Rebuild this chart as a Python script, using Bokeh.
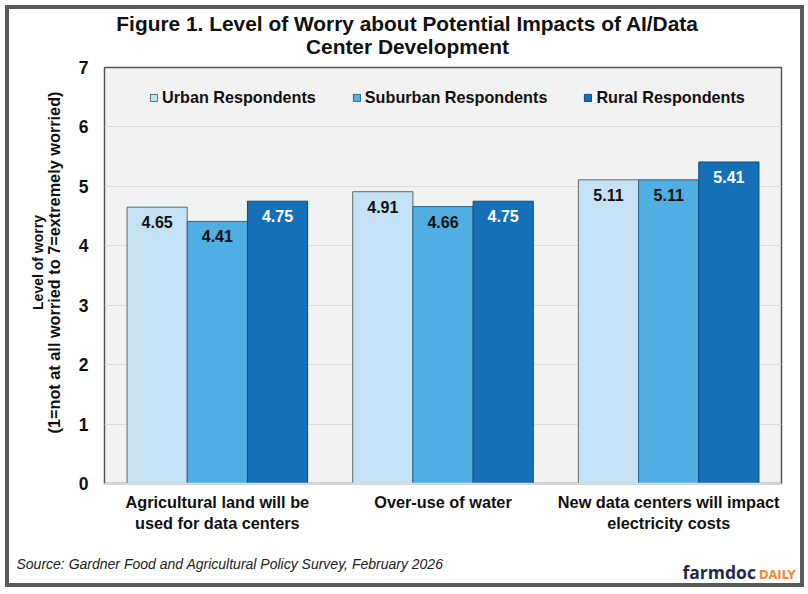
import math
from bokeh.embed import file_html
from bokeh.resources import INLINE
from bokeh.plotting import figure
from bokeh.models import ColumnDataSource, FactorRange, Range1d, Label, Legend, LegendItem, FixedTicker
from bokeh.transform import dodge
from bokeh.core.properties import value

categories = ["Agricultural land will be\nused for data centers", "Over-use of water",
              "New data centers will impact\nelectricity costs"]
urban = [4.65, 4.91, 5.11]
suburban = [4.41, 4.66, 5.11]
rural = [4.75, 4.75, 5.41]
y_ticks = [0, 1, 2, 3, 4, 5, 6, 7]
title_lines = ["Figure 1. Level of Worry about Potential Impacts of AI/Data", "Center Development"]
y_title_lines = ["Level of worry", "(1=not at all worried to 7=extremely worried)"]
source_text = "Source: Gardner Food and Agricultural Policy Survey, February 2026"

FONT = "Liberation Sans"
INK = "#111111"
W, H = 799, 582

p = figure(x_range=FactorRange(factors=categories, factor_padding=0, range_padding=0),
           y_range=Range1d(0, 7), width=W, height=H, output_backend="svg", toolbar_location=None,
           min_border_left=95, min_border_right=27, min_border_top=58, min_border_bottom=108,
           margin=(5, 0, 0, 5), background_fill_color="#f2f2f2", border_fill_color="white",
           styles={"border": "4px solid #595959"})

p.outline_line_color = "#555555"
p.outline_line_width = 1.5
p.xgrid.visible = False
p.ygrid.grid_line_color = "#dcdcdc"
p.ygrid.ticker = FixedTicker(ticks=y_ticks)

p.yaxis.ticker = FixedTicker(ticks=y_ticks)
p.yaxis.axis_line_color = None
p.yaxis.major_tick_line_color = None
p.yaxis.minor_tick_line_color = None
p.yaxis.major_label_text_font = FONT
p.yaxis.major_label_text_font_style = "bold"
p.yaxis.major_label_text_font_size = "17.5px"
p.yaxis.major_label_text_color = INK
p.yaxis.major_label_standoff = 10

p.xaxis.axis_line_color = "#d9d9d9"
p.xaxis.axis_line_width = 1.5
p.xaxis.major_tick_line_color = None
p.xaxis.minor_tick_line_color = None
p.xaxis.major_label_text_font = FONT
p.xaxis.major_label_text_font_style = "bold"
p.xaxis.major_label_text_font_size = "16.3px"
p.xaxis.major_label_text_color = INK
p.xaxis.major_label_standoff = 3
p.xaxis.major_label_orientation = "horizontal"

src = ColumnDataSource(dict(cat=categories, urban=urban, suburban=suburban, rural=rural,
                            lu=[f"{v:.2f}" for v in urban], ls=[f"{v:.2f}" for v in suburban],
                            lr=[f"{v:.2f}" for v in rural]))
BW = 0.2667
series = [("urban", "lu", -BW, "#c5e2f4", "#566a76", INK, "Urban Respondents"),
          ("suburban", "ls", 0, "#50aee2", "#2f6485", INK, "Suburban Respondents"),
          ("rural", "lr", BW, "#1670b8", "#0e4a7c", "white", "Rural Respondents")]
items = []
for col, lab, off, fill, line, tcol, name in series:
    x = dodge("cat", off, range=p.x_range)
    r = p.vbar(x=x, top=col, width=BW, source=src, fill_color=fill, line_color=line, line_width=1)
    items.append(LegendItem(label=name, renderers=[r]))
    p.text(x=x, y=col, text=lab, source=src, text_align="center", text_baseline="middle",
           y_offset=15, text_color=tcol, text_font=value(FONT), text_font_style="bold", text_font_size="16px")

leg = Legend(items=items, orientation="horizontal", location=(45, 376), spacing=36, glyph_width=9,
             glyph_height=9, label_standoff=4, padding=0, margin=0, background_fill_alpha=0,
             border_line_color=None, label_text_font=FONT, label_text_font_style="bold",
             label_text_font_size="16.2px", label_text_color=INK, label_height=16)
p.add_layout(leg, "center")

kw = dict(text_baseline="middle", x_units="canvas", y_units="canvas")
bold = dict(text_font=FONT, text_font_style="bold", text_color=INK, **kw)
p.add_layout(Label(x=394, y=10, text=title_lines[0], text_align="center", text_font_size="20.9px", **bold), "above")
p.add_layout(Label(x=394, y=33, text=title_lines[1], text_align="center", text_font_size="20.9px", **bold), "above")
p.add_layout(Label(x=24, y=249, text=y_title_lines[0], text_align="center", text_font_size="14px",
                   angle=math.pi / 2, **bold), "left")
p.add_layout(Label(x=40.5, y=249, text=y_title_lines[1], text_align="center", text_font_size="16.3px",
                   angle=math.pi / 2, **bold), "left")
p.add_layout(Label(x=3, y=550, text=source_text, text_align="left", text_font=FONT, text_font_style="italic",
                   text_font_size="14px", text_color="#222222", **kw), "below")
p.add_layout(Label(x=669, y=558, text="farmdoc", text_align="left", text_font="Open Sans", text_font_style="bold",
                   text_font_size="17.5px", text_color="#1d2a4d", **kw), "below")
p.add_layout(Label(x=782, y=561, text="DAILY", text_align="right", text_font="DejaVu Sans", text_font_style="bold",
                   text_font_size="11.5px", text_color="#f0883a", **kw), "below")

open("out.html", "w").write(file_html(p, INLINE))
